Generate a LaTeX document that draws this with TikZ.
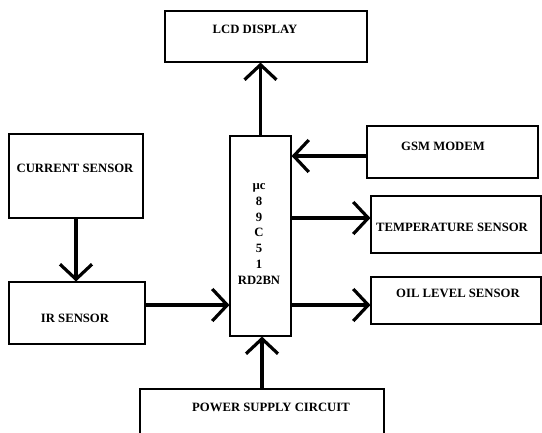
\documentclass[tikz,border=0pt]{standalone}
\usepackage{fontspec}
\setmainfont{Liberation Serif}
\usetikzlibrary{arrows.meta}
\tikzset{
	block/.style={draw, line width=1.1pt, inner sep=0pt},
	beschr/.style={font=\fontsize{12.7}{15.7}\selectfont\bfseries, inner sep=0pt},
	pfeil/.style={line width=3.2pt, -{Straight Barb[length=15pt,width=32pt]}}
}
\begin{document}
\begin{tikzpicture}[x=1pt, y=-1pt]
		\useasboundingbox (0,0) rectangle (542,432);
		\clip (0,0) rectangle (542,432);
		% Bloecke
		\node[block, minimum width=202pt, minimum height=51pt] (lcd) at (266,36.5) {};
		\node[block, minimum width=61pt, minimum height=200pt] (mcu) at (260.5,236) {};
		\node[block, minimum width=134pt, minimum height=84pt] (cur) at (76,176) {};
		\node[block, minimum width=136pt, minimum height=62pt] (ir) at (77,313) {};
		\node[block, minimum width=171pt, minimum height=52pt] (gsm) at (452.5,152) {};
		\node[block, minimum width=170pt, minimum height=57pt] (temp) at (456,224.5) {};
		\node[block, minimum width=170pt, minimum height=47pt] (oil) at (456,300.5) {};
		\node[block, minimum width=244pt, minimum height=50pt] (psu) at (262,414) {};
		
		% Beschriftungen
		\node[beschr] (lcdtxt) at (255,29) {LCD DISPLAY};
		\node[beschr, align=center] (mcutxt) at (259,234) {µc\\8\\9\\C\\5\\1\\RD2BN};
		\node[beschr] (curtxt) at (75,168) {CURRENT SENSOR};
		\node[beschr] (irtxt) at (75,318) {IR SENSOR};
		\node[beschr] (gsmtxt) at (443,146) {GSM MODEM};
		\node[beschr] (temptxt) at (452,227) {TEMPERATURE SENSOR};
		\node[beschr] (oiltxt) at (458,293) {OIL LEVEL SENSOR};
		\node[beschr] (psutxt) at (271,407) {POWER SUPPLY CIRCUIT};
		
		% Verbindungen
		\draw[pfeil] (mcu.north) -- (mcu.north |- lcd.south); % zum Display
		\draw[pfeil] ([yshift=-4pt]gsm.west) -- ([yshift=-4pt]gsm.west -| mcu.east); % GSM
		\draw[pfeil] ([yshift=6.5pt]temp.west -| mcu.east) -- ([yshift=6.5pt]temp.west); % Temperatur
		\draw[pfeil] ([yshift=-4.5pt]oil.west -| mcu.east) -- ([yshift=-4.5pt]oil.west); % Oel
		\draw[pfeil] (cur.south) -- (cur.south |- ir.north); % Strom -> IR
		\draw[pfeil] ([yshift=8pt]ir.east) -- ([yshift=8pt]ir.east -| mcu.west); % IR -> uC
		\draw[pfeil] (psu.north) -- (psu.north |- mcu.south); % Versorgung
	\end{tikzpicture}
\end{document}
